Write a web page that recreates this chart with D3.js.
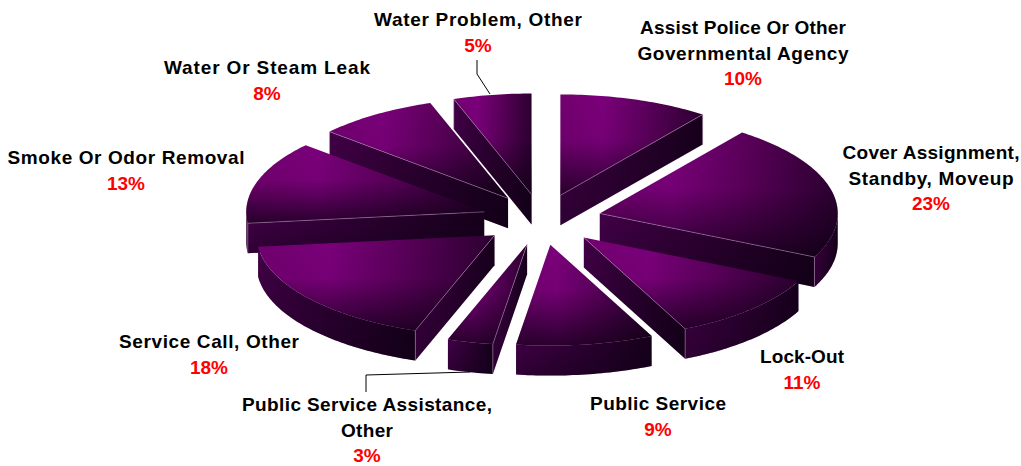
<!DOCTYPE html>
<html><head><meta charset="utf-8">
<style>html,body{margin:0;padding:0;background:#fff}svg{display:block}</style>
<script src="https://cdn.jsdelivr.net/npm/d3@7"></script></head><body>
<div id="chart"></div>
<script>
const categories = [
  ["Assist Police Or Other","Governmental Agency"],
  ["Cover Assignment,","Standby, Moveup"],
  ["Lock-Out"],
  ["Public Service"],
  ["Public Service Assistance,","Other"],
  ["Service Call, Other"],
  ["Smoke Or Odor Removal"],
  ["Water Or Steam Leak"],
  ["Water Problem, Other"]
];
const shares = [10.2, 21.9, 10.9, 9.3, 3.1, 17.8, 13.3, 8.2, 5.3];
const percentLabels = ["10%","23%","11%","9%","3%","18%","13%","8%","5%"];

const W = 1021, H = 466;
const cx = 541.5, cy = 219.5, rx = 238, tilt = 0.424, depth = 30, explode = 60;
// label block layout: centre x, first baseline y, and measured width of each text line
const labelAnchors = [[743,34],[931,159],[802,363],[658,410],[367,411],[209,348],[126,164],[267,74],[478,26]];
const lineWidths = [[206,211],[177,165],[84],[136],[250,52],[180],[237],[206],[208]];
const leaders = [null,null,null,null,[[366,392],[366,375],[470,372]],null,null,null,[[477,60],[477,74],[490,94]]];

const svg = d3.select("#chart").append("svg").attr("width",W).attr("height",H).attr("viewBox",[0,0,W,H]);
const defs = svg.append("defs");
function hGrad(id, stops){
  const g = defs.append("linearGradient").attr("id",id).attr("x1",0).attr("x2",1).attr("y1",0).attr("y2",0);
  stops.forEach(s=>g.append("stop").attr("offset",s[0]).attr("stop-color",s[1]));
}
function vShade(id, stops){
  const g = defs.append("linearGradient").attr("id",id).attr("x1",0).attr("x2",0).attr("y1",0).attr("y2",1);
  stops.forEach(s=>g.append("stop").attr("offset",s[0]).attr("stop-color","#0a0010").attr("stop-opacity",s[1]));
}
hGrad("topH",[[0,"#72006f"],[0.3,"#7b007b"],[0.6,"#5c005c"],[1,"#2c0030"]]);
vShade("topV",[[0,0],[0.45,0.05],[1,0.72]]);
hGrad("wallH",[[0,"#420047"],[1,"#17001c"]]);
vShade("wallV",[[0,0],[1,0.35]]);

const pie = d3.pie().value(d=>d).sort(null);
const arcs = pie(shares);
const line = d3.line();
const deg = Math.PI/180;

function proj(o, a, r, z){ return [o[0]+r*Math.sin(a), o[1]-r*tilt*Math.cos(a)+z]; }
function arcPts(o,a0,a1,z){
  const n = Math.max(2,Math.ceil(Math.abs(a1-a0)/deg));
  return d3.range(n+1).map(i=>proj(o,a0+(a1-a0)*i/n,rx,z));
}
const slices = arcs.map((d,i)=>{
  const m=(d.startAngle+d.endAngle)/2;
  return {i,a0:d.startAngle,a1:d.endAngle,o:[cx+explode*Math.sin(m),cy-explode*tilt*Math.cos(m)]};
}).sort((a,b)=>a.o[1]-b.o[1]);

const edge = "#b79ab9";
function shaded(g,pts,h,v){
  const p=line(pts)+"Z";
  g.append("path").attr("d",p).attr("fill",`url(#${h})`);
  g.append("path").attr("d",p).attr("fill",`url(#${v})`);
}
slices.forEach(s=>{
  const g=svg.append("g");
  const {o,a0,a1}=s;
  const walls=[];
  const radial = a => {
    const r=proj(o,a,rx,0);
    shaded(g,[o,r,[r[0],r[1]+depth],[o[0],o[1]+depth]],"wallH","wallV");
    walls.push([o,r]);
    walls.push([r,[r[0],r[1]+depth]]);
  };
  if(Math.sin(a0)<0) radial(a0);
  if(Math.sin(a1)>0) radial(a1);
  const f0=Math.max(a0,Math.PI/2), f1=Math.min(a1,Math.PI*1.5);
  if(f1>f0){
    const top=arcPts(o,f0,f1,0), bot=arcPts(o,f1,f0,depth);
    shaded(g,top.concat(bot),"wallH","wallV");
  }
  shaded(g,[o].concat(arcPts(o,a0,a1,0)),"topH","topV");
  walls.forEach(w=>g.append("path").attr("d",line(w)).attr("fill","none").attr("stroke",edge).attr("stroke-opacity",0.8).attr("stroke-width",0.6));
});

leaders.forEach(l=>{ if(l) svg.append("path").attr("d",line(l)).attr("fill","none").attr("stroke","#000").attr("stroke-width",1); });

const font = "'Liberation Sans', Arial, sans-serif";
categories.forEach((lines,i)=>{
  const [x,y]=labelAnchors[i];
  const t=svg.append("text").attr("text-anchor","middle").attr("font-family",font).attr("font-weight","bold").attr("font-size",19);
  lines.forEach((s,k)=>t.append("tspan").attr("x",x).attr("y",y+k*25.6).attr("fill","#000")
    .attr("textLength",lineWidths[i][k]).attr("lengthAdjust","spacing").text(s));
  t.append("tspan").attr("x",x).attr("y",y+lines.length*25.6).attr("fill","#ff0000").text(percentLabels[i]);
});
</script></body></html>
